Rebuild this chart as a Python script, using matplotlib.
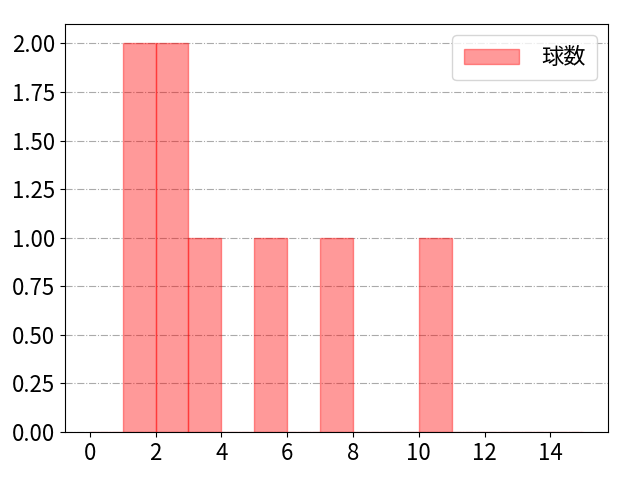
import matplotlib
matplotlib.use("Agg")
import matplotlib.pyplot as plt
import numpy as np

plt.rcParams['font.family'] = ['Noto Sans CJK JP', 'DejaVu Sans']
plt.rcParams['font.size'] = 16

# pitch counts observed (values per bin)
values = [1, 1, 2, 2, 3, 5, 7, 10]
bins = list(range(0, 16))
label = '球数'

fig = plt.figure(figsize=(6.4, 4.8), dpi=100)
ax = fig.add_axes([65/640, 48/480, (608-65)/640, (432-24)/480])
ax.hist(values, bins=bins, color='red', alpha=0.4, edgecolor='red', label=label)
ax.grid(axis='y', linestyle='-.', color='#aaaaaa')
ax.set_axisbelow(True)
yt = np.arange(0, 2.01, 0.25)
ax.set_yticks(yt)
ax.set_yticklabels([f'{v:.2f}' for v in yt])
ax.set_xticks(range(0, 15, 2))
ax.legend(loc='upper right', borderpad=0.5, handlelength=2.5, handletextpad=1.0)
fig.savefig('out.png')
